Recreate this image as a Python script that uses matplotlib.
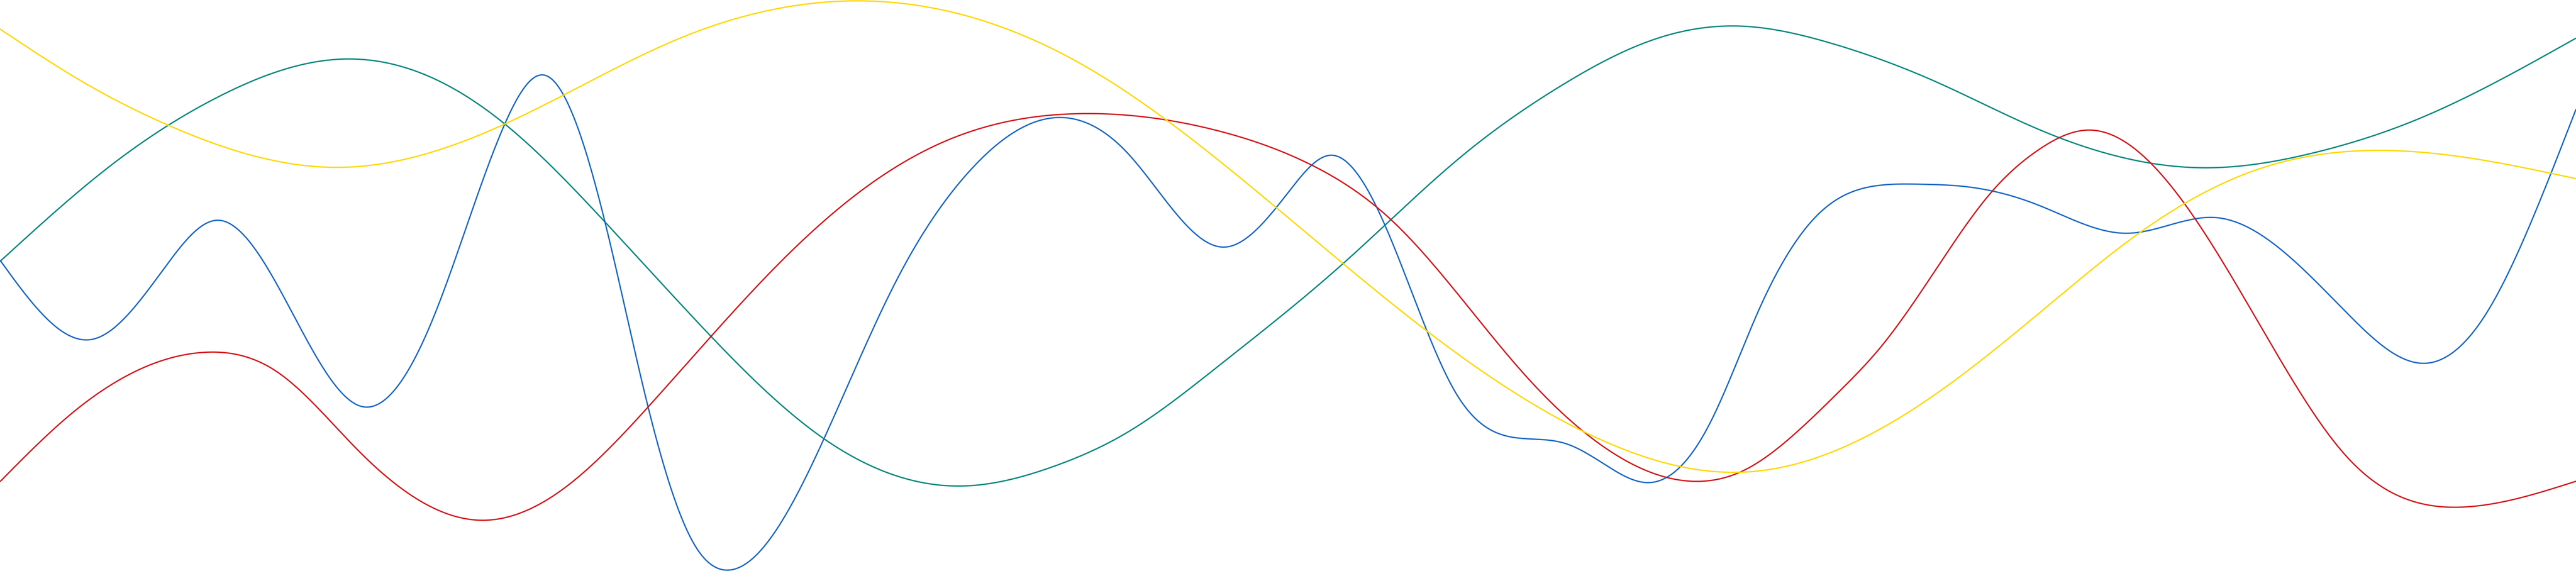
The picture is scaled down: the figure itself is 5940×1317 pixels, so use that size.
import numpy as np
from matplotlib import pyplot as plt

blue_x = [0, 211, 383, 501, 670, 836, 1000, 1164, 1254, 1395, 1494, 1600, 1677, 1900,
          2066, 2238, 2442, 2600, 2821, 2972, 3070, 3196, 3358, 3442, 3540, 3610, 3700,
          3805, 3942, 4057, 4197, 4338, 4433, 4529, 4700, 4906, 5111, 5254, 5412, 5590,
          5728, 5847, 5940]
blue_y = [600, 783, 613, 508, 714, 938, 731, 286, 173, 512, 937, 1254, 1315, 1012,
          649, 392, 271, 353, 570, 442, 358, 525, 908, 994, 1013, 1023, 1071,
          1113, 978, 712, 490, 427, 425, 430, 473, 538, 502, 571, 722, 838,
          731, 487, 252]

teal_x = [0, 255, 510, 801, 1000, 1164, 1395, 1600, 1900, 2216, 2429, 2600, 2810,
          3098, 3372, 3596, 3811, 4007, 4213, 4465, 4700, 5088, 5333, 5570, 5940]
teal_y = [603, 382, 220, 136, 181, 286, 512, 734, 1012, 1121, 1076, 997, 844,
          607, 359, 200, 92, 60, 97, 189, 298, 387, 353, 277, 88]

red_x = [0, 160, 466, 638, 829, 1111, 1301, 1496, 1791, 1983, 2174, 2500, 2810, 3021,
         3210, 3512, 3700, 3901, 4019, 4146, 4242, 4338, 4465, 4593, 4700, 4819, 5064,
         5254, 5412, 5689, 5940]
red_y = [1111, 958, 813, 857, 1042, 1200, 1126, 937, 613, 442, 328, 262, 302, 379,
         509, 860, 1032, 1110, 1086, 994, 902, 799, 620, 442, 346, 300, 508,
         823, 1054, 1169, 1110]

yellow_x = [0, 191, 386, 785, 1164, 1578, 1768, 1970, 2485, 2937, 3287, 3700, 4019,
            4402, 4700, 4921, 5175, 5499, 5940]
yellow_y = [67, 189, 288, 386, 286, 84, 25, 2, 143, 474, 761, 1018, 1089,
            950, 724, 546, 402, 347, 412]


def smooth(x, y, n=4000):
    # natural cubic spline through the points, only for drawing
    x = np.asarray(x, float)
    y = np.asarray(y, float)
    N = len(x)
    h = np.diff(x)
    A = np.zeros((N, N))
    b = np.zeros(N)
    A[0, 0] = A[-1, -1] = 1
    for i in range(1, N - 1):
        A[i, i - 1] = h[i - 1]
        A[i, i] = 2 * (h[i - 1] + h[i])
        A[i, i + 1] = h[i]
        b[i] = 6 * ((y[i + 1] - y[i]) / h[i] - (y[i] - y[i - 1]) / h[i - 1])
    M = np.linalg.solve(A, b)
    xs = np.linspace(x[0], x[-1], n)
    k = np.clip(np.searchsorted(x, xs) - 1, 0, N - 2)
    a = x[k + 1] - xs
    c = xs - x[k]
    hk = h[k]
    ys = (M[k] * a**3 + M[k + 1] * c**3) / (6 * hk) \
        + (y[k] / hk - M[k] * hk / 6) * a + (y[k + 1] / hk - M[k + 1] * hk / 6) * c
    return xs, ys


fig = plt.figure(figsize=(59.4, 13.17), dpi=100)
ax = fig.add_axes([0, 0, 1, 1])

lw = 2.2
for xx, yy, col in [(teal_x, teal_y, "#00877d"),
                    (blue_x, blue_y, "#1766c4"),
                    (red_x, red_y, "#d3161b"),
                    (yellow_x, yellow_y, "#ffd800")]:
    sx, sy = smooth(xx, yy)
    ax.plot(sx, sy, color=col, linewidth=lw, solid_capstyle="butt")

ax.set_xlim(0, 5940)
ax.set_ylim(1317, 0)
ax.axis("off")

fig.savefig("out.png", dpi=100)
